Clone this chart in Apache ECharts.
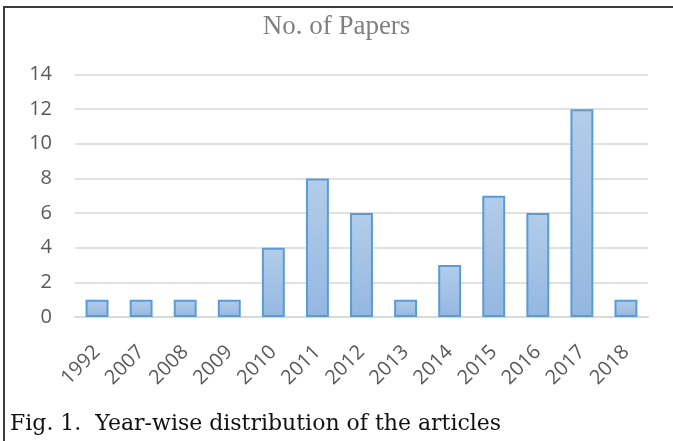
<!DOCTYPE html>
<html>
<head>
<meta charset="utf-8">
<script src="https://cdn.jsdelivr.net/npm/echarts@6/dist/echarts.min.js"></script>
<style>
  html, body { margin: 0; padding: 0; background: #fff; }
  #chart { width: 673px; height: 441px; }
</style>
</head>
<body>
<div id="chart"></div>
<script>
// Number of papers published per year
const years = ['1992', '2007', '2008', '2009', '2010', '2011', '2012', '2013', '2014', '2015', '2016', '2017', '2018'];
const paperCounts = [1, 1, 1, 1, 4, 8, 6, 1, 3, 7, 6, 12, 1];
const yTicks = [0, 2, 4, 6, 8, 10, 12, 14];

const chart = echarts.init(document.getElementById('chart'), null, { renderer: 'canvas' });

chart.setOption({
  animation: false,
  backgroundColor: '#fff',
  title: [
    {
      text: 'No. of Papers',
      left: 'center',
      top: 8,
      textStyle: {
        fontFamily: 'Liberation Serif',
        fontWeight: 'normal',
        fontSize: 27,
        color: '#808080'
      }
    },
    {
      text: 'Fig. 1.  Year-wise distribution of the articles',
      left: 5,
      top: 408,
      textStyle: {
        fontFamily: 'DejaVu Serif',
        fontWeight: 'normal',
        fontSize: 22,
        color: '#111'
      }
    }
  ],
  graphic: [
    {
      type: 'polyline',
      shape: { points: [[4, 441], [4, 7], [673, 7]] },
      style: { stroke: '#3a3a3a', lineWidth: 2, fill: null }
    }
  ],
  grid: {
    left: 75,
    right: 25,
    top: 74.5,
    bottom: 124,
    containLabel: false
  },
  xAxis: {
    type: 'category',
    data: years,
    axisLine: { lineStyle: { color: '#d9d9d9', width: 2 } },
    axisTick: { show: false },
    axisLabel: {
      rotate: 45,
      margin: 32,
      fontFamily: 'Open Sans',
      fontSize: 20,
      color: '#595959'
    }
  },
  yAxis: {
    type: 'value',
    min: yTicks[0],
    max: yTicks[yTicks.length - 1],
    interval: 2,
    axisLine: { show: false },
    axisTick: { show: false },
    splitLine: { lineStyle: { color: '#d9d9d9', width: 1.5 } },
    axisLabel: {
      margin: 23,
      fontFamily: 'Open Sans',
      fontSize: 20,
      color: '#595959'
    }
  },
  series: [
    {
      type: 'bar',
      data: paperCounts,
      barWidth: '52%',
      itemStyle: {
        color: new echarts.graphic.LinearGradient(0, 0, 0, 1, [
          { offset: 0, color: '#b3cdea' },
          { offset: 1, color: '#94b7e1' }
        ]),
        borderColor: '#5b9bd5',
        borderWidth: 2
      }
    }
  ]
});
</script>
</body>
</html>
